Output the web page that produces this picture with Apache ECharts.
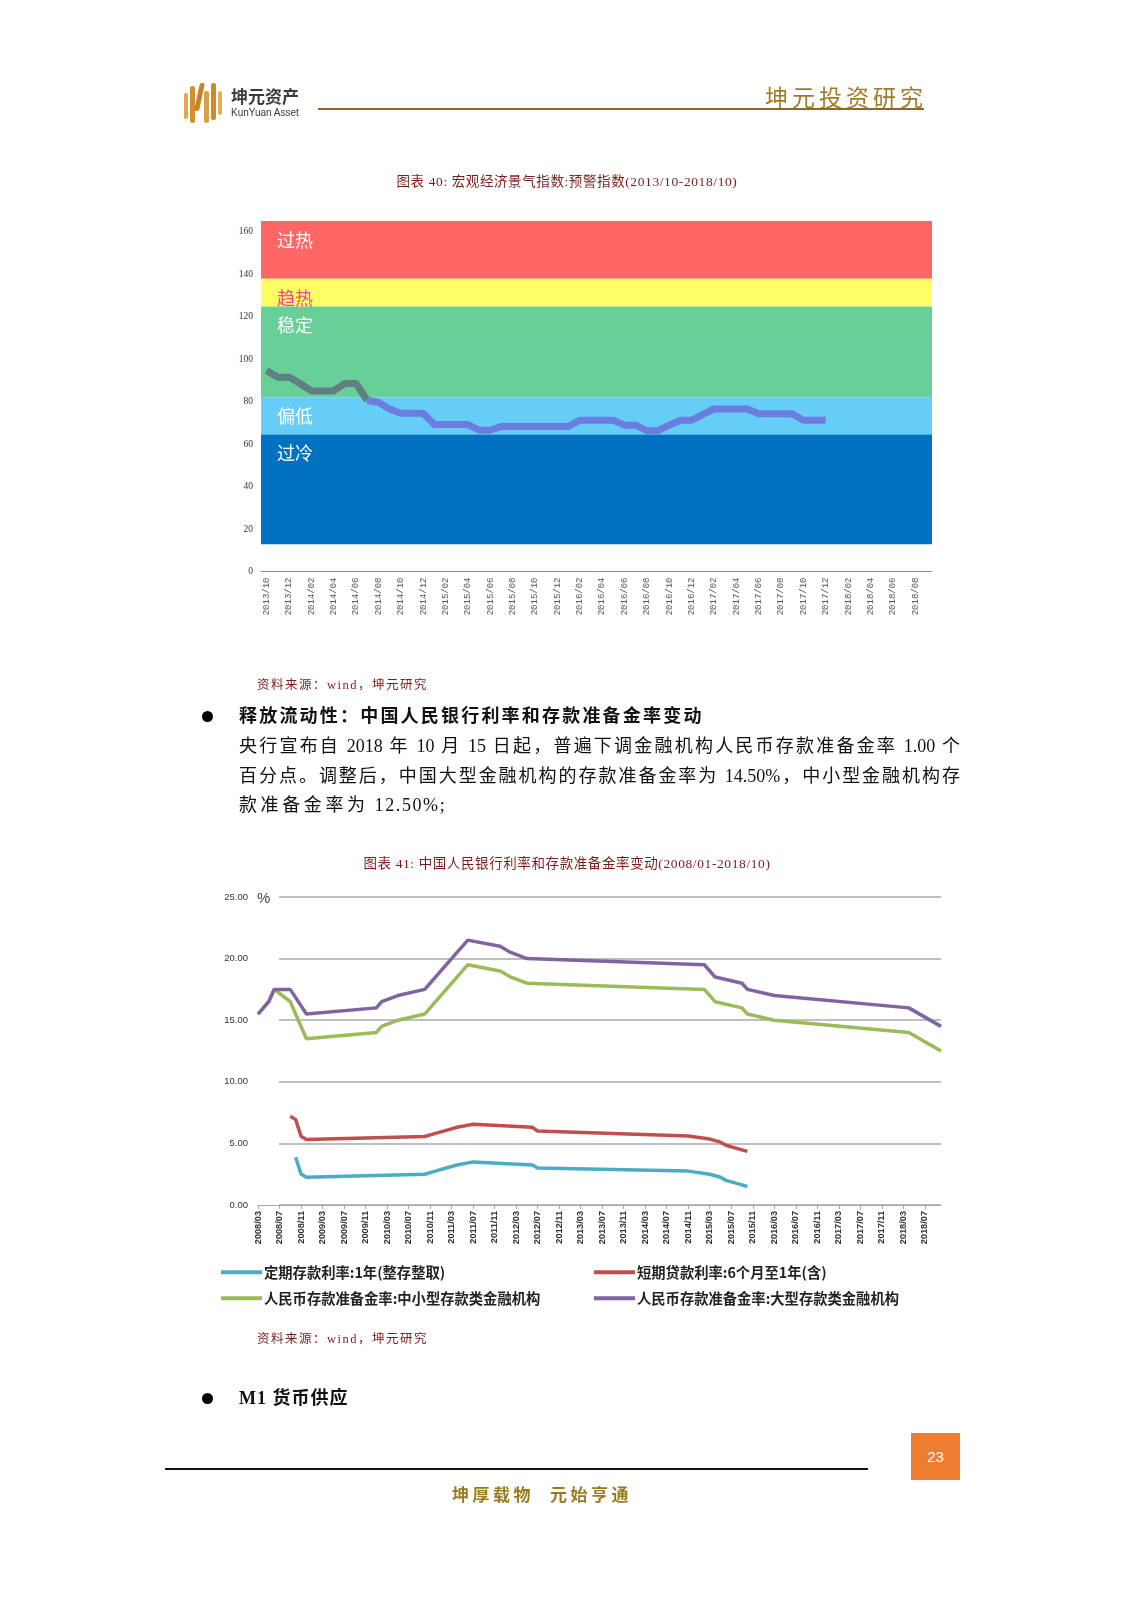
<!DOCTYPE html>
<html><head><meta charset="utf-8">
<script src="https://cdn.jsdelivr.net/npm/echarts@6/dist/echarts.min.js"></script>
<style>
body{margin:0;background:#fff;}
#page{position:relative;width:1131px;height:1600px;overflow:hidden;background:#fff;}
#chart{position:absolute;left:0;top:0;width:1131px;height:1600px;}
.t{position:absolute;white-space:nowrap;z-index:5;font-family:"Liberation Serif","Noto Sans CJK SC",serif;}
.cap{color:#7a1c1c;font-size:13.5px;line-height:18px;letter-spacing:0.6px;}
.src{color:#7a1c1c;font-size:12.5px;line-height:16px;letter-spacing:1.5px;}
.body{color:#111;font-size:18px;line-height:24px;letter-spacing:2.2px;}
.just{width:721px;text-align:justify;text-align-last:justify;letter-spacing:0;}
.n{letter-spacing:1.6px;margin-left:6px;}
.dot{position:absolute;width:11px;height:11px;border-radius:50%;background:#000;z-index:5;}
.bar{position:absolute;border-radius:2px;}
</style></head>
<body><div id="page">
<div id="chart"></div>

<!-- header -->
<div class="t" style="left:184px;top:83px;width:38px;height:40px;">
  <div class="bar" style="left:0;top:10px;width:4px;height:26px;background:#e2a849"></div>
  <div class="bar" style="left:6px;top:3px;width:5px;height:37px;background:#d18f31"></div>
  <div class="bar" style="left:13px;top:0;width:5px;height:28px;background:#c98026;transform:skewX(-12deg)"></div>
  <div class="bar" style="left:20px;top:8px;width:5px;height:32px;background:#daa043"></div>
  <div class="bar" style="left:27px;top:0;width:5px;height:37px;background:#cf8a2c"></div>
  <div class="bar" style="left:34px;top:8px;width:4px;height:24px;background:#e4ae52"></div>
</div>
<div class="t" style="left:231px;top:85px;font-family:'Noto Sans CJK SC';font-weight:bold;font-size:17px;line-height:21px;color:#3a3a3a;">坤元资产</div>
<div class="t" style="left:231px;top:106px;font-family:'Liberation Sans';font-size:10px;line-height:13px;color:#3a3a3a;">KunYuan Asset</div>
<div class="t" style="left:318px;top:108px;width:606px;height:2px;background:#8a6a22;"></div>
<div class="t" style="left:765px;top:83px;font-family:'Noto Sans CJK SC';font-size:23px;line-height:26px;letter-spacing:4px;color:#a07a2a;">坤元投资研究</div>

<!-- chart 1 caption -->
<div class="t cap" style="left:0;width:1134px;text-align:center;top:173px;">图表 40: 宏观经济景气指数:预警指数(2013/10-2018/10)</div>
<div class="t src" style="left:257px;top:677px;">资料来源：wind，坤元研究</div>

<!-- paragraph -->
<div class="dot" style="left:202px;top:711px;"></div>
<div class="t body" style="left:239px;top:704px;font-weight:bold;">释放流动性：中国人民银行利率和存款准备金率变动</div>
<div class="t body just" style="left:239px;top:734px;">央行宣布自 2018 年 10 月 15 日起，普遍下调金融机构人民币存款准备金率 1.00 个</div>
<div class="t body just" style="left:239px;top:764px;">百分点。调整后，中国大型金融机构的存款准备金率为 14.50%，中小型金融机构存</div>
<div class="t body" style="left:239px;top:793px;letter-spacing:3.6px;">款准备金率为<span class="n">12.50%;</span></div>

<!-- chart 2 caption -->
<div class="t cap" style="left:0;width:1134px;text-align:center;top:855px;">图表 41: 中国人民银行利率和存款准备金率变动(2008/01-2018/10)</div>
<div class="t" style="left:257px;top:889px;font-family:'Liberation Sans';font-size:15px;line-height:18px;color:#444;">%</div>
<div class="t src" style="left:257px;top:1331px;">资料来源：wind，坤元研究</div>

<div class="dot" style="left:202px;top:1393px;"></div>
<div class="t body" style="left:239px;top:1386px;font-weight:bold;letter-spacing:1px;">M1 货币供应</div>

<!-- footer -->
<div class="t" style="left:165px;top:1468px;width:703px;height:1.5px;background:#111;"></div>
<div class="t" style="left:911px;top:1433px;width:49px;height:47px;background:#ed7d31;color:#fff;font-family:'Liberation Sans';font-size:15px;line-height:47px;text-align:center;">23</div>
<div class="t" style="left:452px;top:1483px;font-family:'Noto Sans CJK SC';font-size:17px;line-height:22px;letter-spacing:3.5px;color:#9a7a1e;font-weight:bold;">坤厚载物<span style="display:inline-block;width:16px"></span>元始亨通</div>
</div>

<script>
// ---------- data: chart 1 (预警指数) ----------
function monthRange(y0, m0, y1, m1) {
  const out = [];
  let y = y0, m = m0;
  while (y < y1 || (y === y1 && m <= m1)) {
    out.push(y + '/' + (m < 10 ? '0' + m : '' + m));
    m++; if (m > 12) { m = 1; y++; }
  }
  return out;
}
const warnMonths = monthRange(2013, 10, 2018, 9);
const warnIndex = [94.6, 91.5, 91.5, 88.5, 85, 85, 85, 88.5, 88.5, 80.5,
  79.7, 76.5, 74.5, 74.5, 74.5, 69.2, 69.2, 69.2, 69.2, 66.5,
  66.5, 68.3, 68.3, 68.3, 68.3, 68.3, 68.3, 68.3, 71.2, 71.2,
  71.2, 71.2, 68.9, 68.9, 66.3, 66.3, 68.9, 71.2, 71.2, 74,
  76.5, 76.5, 76.5, 76.5, 74.3, 74.3, 74.3, 74.3, 71.2, 71.2, 71.2];
const warnSplitIdx = 9; // point where the line leaves the "稳定" zone (colour switch)
const bandNames = ['过冷', '偏低', '稳定', '趋热', '过热'];
const bandEdges = [12.8, 64.5, 82, 124.8, 137.8, 165];
const bandColors = ['#0070c0', '#66cdf6', '#67cf97', '#ffff66', '#ff6666'];
const bandTextColors = ['#ffffff', '#ffffff', '#ffffff', '#ff3f9a', '#ffffff'];
const warnTicks = [0, 20, 40, 60, 80, 100, 120, 140, 160];

// ---------- data: chart 2 (利率与准备金率) ----------
const rateMonths = monthRange(2008, 3, 2018, 10);
const seriesNames = ['定期存款利率:1年(整存整取)', '短期贷款利率:6个月至1年(含)',
  '人民币存款准备金率:中小型存款类金融机构', '人民币存款准备金率:大型存款类金融机构'];
const depositRate1Y = [['2008/10', 3.87], ['2008/11', 2.52], ['2008/12', 2.25], ['2010/10', 2.50],
  ['2010/12', 2.75], ['2011/02', 3.00], ['2011/04', 3.25], ['2011/07', 3.50], ['2012/06', 3.25],
  ['2012/07', 3.00], ['2014/11', 2.75], ['2015/03', 2.50], ['2015/05', 2.25], ['2015/06', 2.00],
  ['2015/08', 1.75], ['2015/10', 1.50]];
const loanRate6m1Y = [['2008/09', 7.20], ['2008/10', 6.93], ['2008/11', 5.58], ['2008/12', 5.31],
  ['2010/10', 5.56], ['2010/12', 5.81], ['2011/02', 6.06], ['2011/04', 6.31], ['2011/07', 6.56],
  ['2012/06', 6.31], ['2012/07', 6.00], ['2014/11', 5.60], ['2015/03', 5.35], ['2015/05', 5.10],
  ['2015/06', 4.85], ['2015/08', 4.60], ['2015/10', 4.35]];
const rrrSmall = [['2008/03', 15.5], ['2008/04', 16], ['2008/05', 16.5], ['2008/06', 17.5],
  ['2008/09', 16.5], ['2008/12', 13.5], ['2010/01', 14], ['2010/02', 14.5], ['2010/05', 15],
  ['2010/10', 15.5], ['2010/11', 16], ['2010/12', 16.5], ['2011/01', 17], ['2011/02', 17.5],
  ['2011/03', 18], ['2011/04', 18.5], ['2011/05', 19], ['2011/06', 19.5], ['2011/12', 19],
  ['2012/02', 18.5], ['2012/05', 18], ['2015/02', 17.5], ['2015/04', 16.5], ['2015/09', 16],
  ['2015/10', 15.5], ['2016/03', 15], ['2018/04', 14], ['2018/10', 12.5]];
const rrrLarge = [['2008/03', 15.5], ['2008/04', 16], ['2008/05', 16.5], ['2008/06', 17.5],
  ['2008/09', 17.5], ['2008/12', 15.5], ['2010/01', 16], ['2010/02', 16.5], ['2010/05', 17],
  ['2010/10', 17.5], ['2010/11', 18], ['2010/12', 18.5], ['2011/01', 19], ['2011/02', 19.5],
  ['2011/03', 20], ['2011/04', 20.5], ['2011/05', 21], ['2011/06', 21.5], ['2011/12', 21],
  ['2012/02', 20.5], ['2012/05', 20], ['2015/02', 19.5], ['2015/04', 18.5], ['2015/09', 18],
  ['2015/10', 17.5], ['2016/03', 17], ['2018/04', 16], ['2018/10', 14.5]];
const lineColors = ['#4bacc6', '#c0504d', '#9bbb59', '#8064a2'];
const rateTicks = [0, 5, 10, 15, 20, 25];

// ---------- build ----------
const chart = echarts.init(document.getElementById('chart'), null, { renderer: 'canvas' });

const bandAreas = bandNames.map((n, i) => [
  { yAxis: bandEdges[i], name: n,
    itemStyle: { color: bandColors[i] },
    label: { show: true, position: [16, 10], color: bandTextColors[i], fontSize: 18,
             fontFamily: 'Noto Sans CJK SC', formatter: n } },
  { yAxis: bandEdges[i + 1] }
]).reverse();

const warnHigh = warnIndex.map((v, i) => (i <= warnSplitIdx ? v : null));
const warnLow = warnIndex.map((v, i) => (i >= warnSplitIdx ? v : null));

const legendPos = [[221, 1265], [594, 1265], [221, 1291], [594, 1291]];

const option = {
  animation: false,
  backgroundColor: 'transparent',
  grid: [
    { left: 261, right: 199, top: 221, bottom: 1028.5, containLabel: false },
    { left: 258, right: 190, top: 897, bottom: 395, containLabel: false },
    { left: 279, right: 190, top: 897, bottom: 395, containLabel: false }
  ],
  xAxis: [
    { gridIndex: 0, type: 'category', data: warnMonths, boundaryGap: true,
      axisLine: { show: true, lineStyle: { color: '#8c8c8c', width: 1 } },
      axisTick: { show: false },
      axisLabel: { interval: 1, rotate: 90, margin: 6, fontSize: 9, color: '#555',
                   fontFamily: 'Liberation Mono' } },
    { gridIndex: 1, type: 'category', data: rateMonths, boundaryGap: false,
      axisLine: { show: true, lineStyle: { color: '#a6a6a6', width: 1.2 } },
      axisTick: { show: true, interval: 3, length: 4, lineStyle: { color: '#a6a6a6' } },
      axisLabel: { interval: 3, rotate: 90, margin: 6, fontSize: 9.2, fontWeight: 'bold', color: '#333',
                   fontFamily: 'Liberation Sans' } },
    { gridIndex: 2, type: 'value', min: 0, max: 1, show: false }
  ],
  yAxis: [
    { gridIndex: 0, type: 'value', min: 0, max: bandEdges[bandEdges.length - 1], interval: 20,
      axisLine: { show: false }, axisTick: { show: false }, splitLine: { show: false },
      axisLabel: { showMaxLabel: false, margin: 8, fontSize: 9.5, color: '#333',
                   fontFamily: 'Liberation Serif',
                   formatter: v => (warnTicks.indexOf(v) >= 0 ? String(v) : '') } },
    { gridIndex: 1, type: 'value', min: rateTicks[0], max: rateTicks[rateTicks.length - 1], interval: 5,
      axisLine: { show: false }, axisTick: { show: false }, splitLine: { show: false },
      axisLabel: { margin: 10, fontSize: 9.5, color: '#333', fontFamily: 'Liberation Sans',
                   formatter: v => v.toFixed(2) } },
    { gridIndex: 2, type: 'value', min: rateTicks[0], max: rateTicks[rateTicks.length - 1], interval: 5,
      axisLine: { show: false }, axisTick: { show: false }, axisLabel: { show: false },
      splitLine: { show: true, lineStyle: { color: '#bfbfbf', width: 2 } } }
  ],
  legend: seriesNames.map((n, i) => ({
    data: [n], left: legendPos[i][0], top: legendPos[i][1], padding: 0,
    icon: 'rect', itemWidth: 41, itemHeight: 4, itemGap: 3,
    textStyle: { fontSize: 14.3, fontWeight: 'bold', color: '#222', fontFamily: 'Noto Sans CJK SC', padding: [0, 0, 0, -3] }
  })),
  series: [
    { type: 'line', name: 'bands', xAxisIndex: 0, yAxisIndex: 0, data: [], silent: true,
      markArea: { silent: true, data: bandAreas } },
    { type: 'line', name: '预警指数-稳定', xAxisIndex: 0, yAxisIndex: 0, data: warnHigh, z: 5,
      symbol: 'none', lineStyle: { width: 7, color: '#607f82' }, silent: true },
    { type: 'line', name: '预警指数-偏低', xAxisIndex: 0, yAxisIndex: 0, data: warnLow, z: 5,
      symbol: 'none', lineStyle: { width: 7, color: '#6b7ddf' }, silent: true },
    { type: 'line', name: seriesNames[0], xAxisIndex: 1, yAxisIndex: 1, data: depositRate1Y,
      symbol: 'none', lineStyle: { width: 3.5, color: lineColors[0] }, itemStyle: { color: lineColors[0] } },
    { type: 'line', name: seriesNames[1], xAxisIndex: 1, yAxisIndex: 1, data: loanRate6m1Y,
      symbol: 'none', lineStyle: { width: 3.5, color: lineColors[1] }, itemStyle: { color: lineColors[1] } },
    { type: 'line', name: seriesNames[2], xAxisIndex: 1, yAxisIndex: 1, data: rrrSmall,
      symbol: 'none', lineStyle: { width: 3.5, color: lineColors[2] }, itemStyle: { color: lineColors[2] } },
    { type: 'line', name: seriesNames[3], xAxisIndex: 1, yAxisIndex: 1, data: rrrLarge,
      symbol: 'none', lineStyle: { width: 3.5, color: lineColors[3] }, itemStyle: { color: lineColors[3] } }
  ]
};
chart.setOption(option);
</script>
</body></html>
